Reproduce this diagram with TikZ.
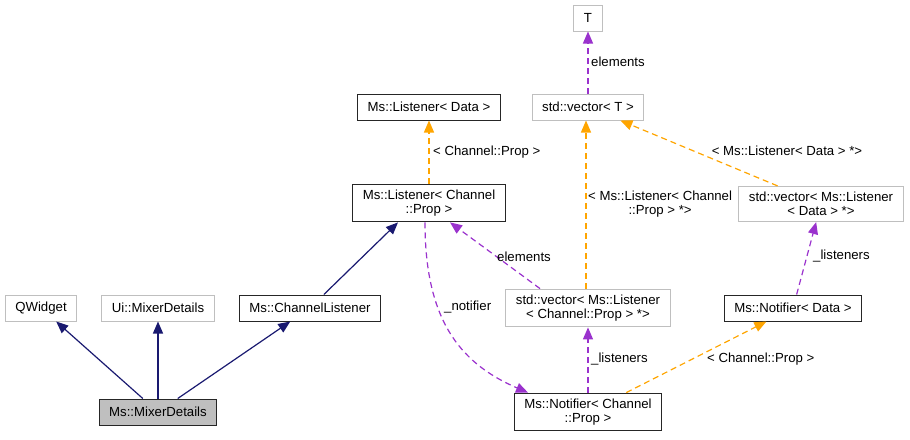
\documentclass[tikz,border=0pt]{standalone}
\usepackage{fontspec}
\setmainfont{Liberation Sans}
\usepackage{xcolor}
\usepackage{tikz}
\usetikzlibrary{arrows.meta}

\definecolor{edgeblue}{HTML}{191970}
\definecolor{edgeorange}{HTML}{FFA500}
\definecolor{edgepurple}{HTML}{9A32CD}
\definecolor{boxgray}{HTML}{BFBFBF}

\begin{document}
\begin{tikzpicture}[x=1pt, y=-1pt,
  font=\fontsize{13.2}{14.5}\selectfont,
  cls/.style={draw=black!85, line width=1pt, minimum height=26pt, inner xsep=10pt, inner ysep=5.5pt, align=center},
  ext/.style={cls, draw=boxgray},
  cur/.style={cls, fill=boxgray},
  inh/.style={edgeblue, line width=1.2pt, -{Triangle[length=12pt,width=10pt]}},
  tmpl/.style={edgeorange, line width=1.2pt, dash pattern=on 6pt off 4pt, -{Triangle[length=12pt,width=10pt]}},
  usage/.style={edgepurple, line width=1.2pt, dash pattern=on 6pt off 4pt, -{Triangle[length=12pt,width=10pt]}},
  lbl/.style={inner sep=1pt, align=center}]

  \useasboundingbox (0,0) rectangle (910,439);

  % Classes
  \node[ext] (t)    at (588,18)  {T};
  \node[ext] (vect) at (588,107) {std::vector< T >};
  \node[cls] (lisdata) at (429,107) {Ms::Listener< Data >};
  \node[cls] (lischan) at (429,203) {Ms::Listener< Channel\\::Prop >};
  \node[ext] (veclisdata) at (821,204) {std::vector< Ms::Listener\\< Data > *>};
  \node[ext] (qwidget) at (41,308)  {QWidget};
  \node[ext] (uimixer) at (158,308) {Ui::MixerDetails};
  \node[cls] (chanlis) at (310,308) {Ms::ChannelListener};
  \node[ext] (veclischan) at (588,308) {std::vector< Ms::Listener\\< Channel::Prop > *>};
  \node[cls] (notdata) at (793,308) {Ms::Notifier< Data >};
  \node[cls] (notchan) at (588,412) {Ms::Notifier< Channel\\::Prop >};
  \node[cur] (mixer)   at (158,412) {Ms::MixerDetails};

  % Inheritance
  \draw[inh] (mixer) -- (qwidget);
  \draw[inh] (mixer) -- (uimixer);
  \draw[inh] (mixer) -- (chanlis);
  \draw[inh] (chanlis) -- ([xshift=-31pt]lischan.south);

  % Template instances
  \draw[tmpl] (lischan) -- (lisdata);
  \draw[tmpl] ([xshift=-2pt]veclischan.north) -- ([xshift=-2pt]vect.south);
  \draw[tmpl] (veclisdata) -- (vect);
  \draw[tmpl] (notchan) -- (notdata);

  % Usage
  \draw[usage] (vect) -- (t);
  \draw[usage] ([xshift=-48pt]veclischan.north) -- ([xshift=21pt]lischan.south);
  \draw[usage] (notdata) -- (veclisdata);
  \draw[usage] (notchan) -- (veclischan);
  \draw[usage] ([xshift=-4pt]lischan.south) .. controls +(0,95) and +(-70,-30) .. ([xshift=-60pt]notchan.north);

  % Edge labels
  \node[lbl, anchor=west] (l1) at (432,152) {< Channel::Prop >};
  \node[lbl, anchor=west] (l2) at (590,62)  {elements};
  \node[lbl, anchor=west] (l3) at (587,204) {< Ms::Listener< Channel\\::Prop > *>};
  \node[lbl] (l4) at (787,151) {< Ms::Listener< Data > *>};
  \node[lbl] (l5) at (524,257) {elements};
  \node[lbl, anchor=west] (l6) at (812,256) {\_listeners};
  \node[lbl, anchor=west] (l7) at (590,359) {\_listeners};
  \node[lbl, anchor=west] (l8) at (706,359) {< Channel::Prop >};
  \node[lbl, anchor=west] (l9) at (443,307) {\_notifier};
\end{tikzpicture}
\end{document}
